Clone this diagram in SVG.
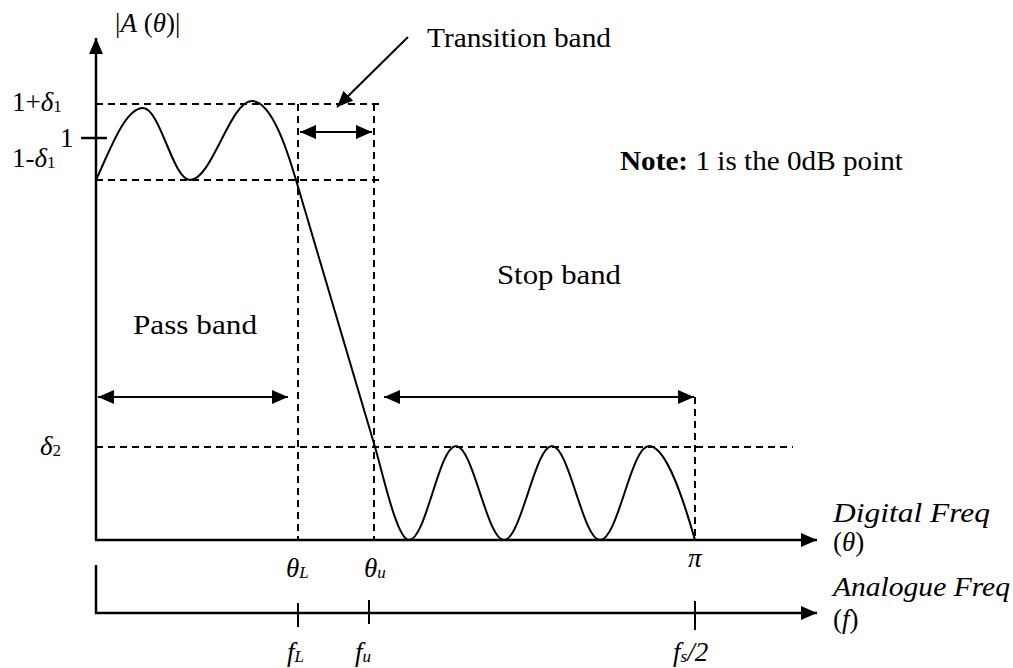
<svg xmlns="http://www.w3.org/2000/svg" width="1013" height="668" viewBox="0 0 1013 668">
<style>
.ax{stroke:#000;stroke-width:2.5;fill:none}
.dash{stroke:#000;stroke-width:2;fill:none;stroke-dasharray:7 5}
.crv{stroke:#000;stroke-width:2;fill:none}
.ln{stroke:#000;stroke-width:2;fill:none}
text{font-family:"Liberation Serif","Times New Roman",serif;font-size:27px;fill:#000}
.it{font-style:italic}
.up{font-style:normal}
.sub{font-size:17px}
</style>
<defs>
<marker id="ah" markerUnits="userSpaceOnUse" markerWidth="18" markerHeight="14" refX="16" refY="7" orient="auto-start-reverse">
<path d="M0,0 L16,7 L0,14 Z" fill="#000"/>
</marker>
</defs>
<rect width="1013" height="668" fill="#fff"/>
<g id="axes">
<line class="ax" x1="96" y1="540" x2="96" y2="38" marker-end="url(#ah)"/>
<line class="ax" x1="95" y1="540" x2="817" y2="540" marker-end="url(#ah)"/>
<polyline class="ax" points="96,565 96,613 817,613" marker-end="url(#ah)"/>
<line class="ax" x1="81" y1="138" x2="107" y2="138"/>
<line class="ln" x1="298" y1="603" x2="298" y2="627"/>
<line class="ln" x1="369" y1="600" x2="369" y2="624"/>
<line class="ln" x1="695" y1="601" x2="695" y2="630"/>
</g>
<g id="guides">
<line class="dash" x1="96" y1="104" x2="384" y2="104"/>
<line class="dash" x1="96" y1="180" x2="384" y2="180"/>
<line class="dash" x1="298" y1="104" x2="298" y2="540"/>
<line class="dash" x1="374" y1="104" x2="374" y2="540"/>
<line class="dash" x1="96" y1="447" x2="793" y2="447"/>
<line class="dash" x1="695" y1="397" x2="695" y2="540"/>
</g>
<g id="response">
<path class="crv" d="M96,180 C110,150 125,108 143,108 C160,108 173,180 190,180 C212,180 230,101 252,101 C272,101 288,153 296,180 L375,447 C383,474 397,540 409,540 C426,540 439,446 456,446 C473,446 487,540 504,540 C521,540 535,446 552,446 C569,446 583,540 600,540 C618,540 631,446 649,446 C667,446 685,505 695,540"/>
</g>
<g id="connectors">
<line class="ln" x1="98" y1="397" x2="288" y2="397" marker-start="url(#ah)" marker-end="url(#ah)"/>
<line class="ln" x1="384" y1="397" x2="694" y2="397" marker-start="url(#ah)" marker-end="url(#ah)"/>
<line class="ln" x1="300" y1="132" x2="372" y2="132" marker-start="url(#ah)" marker-end="url(#ah)"/>
<line class="ln" x1="408" y1="37" x2="337" y2="107" marker-end="url(#ah)"/>
</g>
<g id="labels">
<text x="115" y="32">|<tspan class="it">A</tspan> (<tspan class="it">θ</tspan>)|</text>
<text x="12" y="111">1+<tspan class="it">δ</tspan><tspan class="sub" dy="1">1</tspan></text>
<text x="60" y="147">1</text>
<text x="12" y="167">1-<tspan class="it">δ</tspan><tspan class="sub" dy="1">1</tspan></text>
<text x="40" y="455"><tspan class="it">δ</tspan><tspan class="sub" dy="1">2</tspan></text>
<text x="286" y="577"><tspan class="it">θ</tspan><tspan class="it sub" dy="1">L</tspan></text>
<text x="364" y="577"><tspan class="it">θ</tspan><tspan class="it sub" dy="1">u</tspan></text>
<text x="688" y="567" class="it">π</text>
<text x="287" y="661"><tspan class="it">f</tspan><tspan class="it sub" dy="1">L</tspan></text>
<text x="355" y="661"><tspan class="it">f</tspan><tspan class="it sub" dy="1">u</tspan></text>
<text x="673" y="661"><tspan class="it">f</tspan><tspan class="it sub" dy="1">s</tspan><tspan class="it" dy="-1">/2</tspan></text>
<text class="it"><tspan x="833" y="522" textLength="157" lengthAdjust="spacingAndGlyphs">Digital Freq</tspan><tspan class="up" x="833" y="551">(<tspan class="it">θ</tspan>)</tspan></text>
<text class="it"><tspan x="833" y="596" textLength="177" lengthAdjust="spacingAndGlyphs">Analogue Freq</tspan><tspan class="up" x="833" y="628">(<tspan class="it">f</tspan>)</tspan></text>
<text x="133" y="334" textLength="124" lengthAdjust="spacingAndGlyphs">Pass band</text>
<text x="497" y="284" textLength="124" lengthAdjust="spacingAndGlyphs">Stop band</text>
<text x="427" y="47" textLength="184" lengthAdjust="spacingAndGlyphs">Transition band</text>
<text x="620" y="170" textLength="283" lengthAdjust="spacingAndGlyphs"><tspan font-weight="bold">Note:</tspan> 1 is the 0dB point</text>
</g>
</svg>
